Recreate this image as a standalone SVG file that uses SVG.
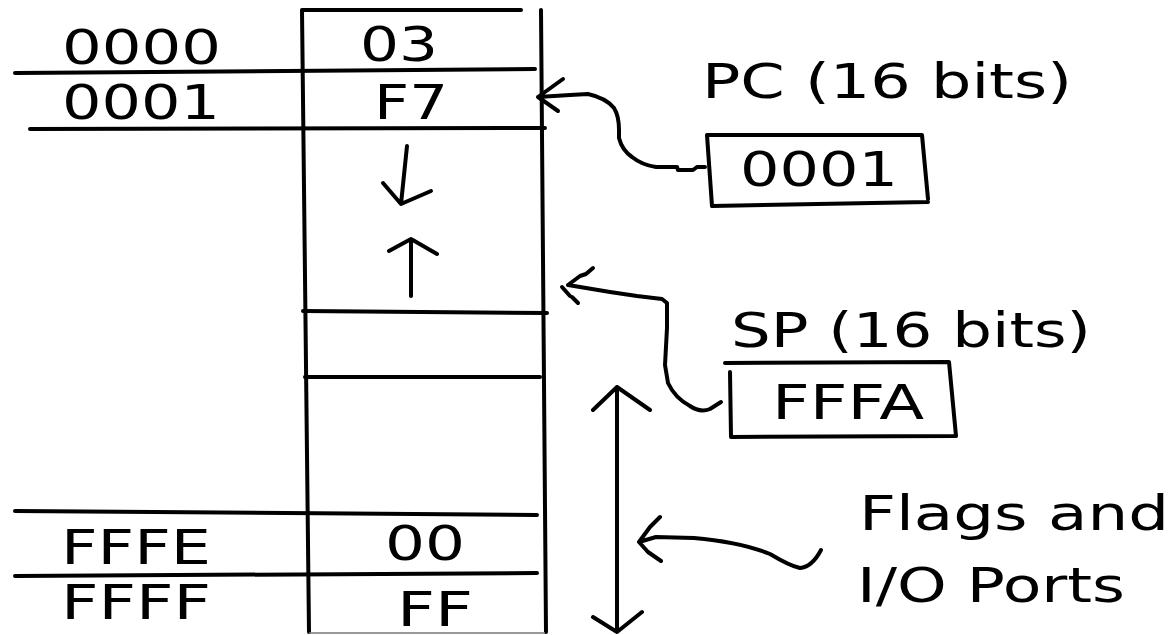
<svg xmlns="http://www.w3.org/2000/svg" width="1173" height="635" viewBox="0 0 1173 635">
<style>
.ln{stroke:#000;stroke-width:4;fill:none;stroke-linecap:round;stroke-linejoin:round}
.thin{stroke:#777;stroke-width:1.5;fill:none}
text{font-family:"DejaVu Sans","Liberation Sans",sans-serif;font-size:48px;fill:#000}
</style>
<rect width="1173" height="635" fill="#fff"/>
<g id="memory">
<path class="ln" d="M303 10 L521 10"/>
<path class="ln" d="M302 10 L309 632"/>
<path class="ln" d="M541 10 L546 632"/>
<path class="ln" d="M15 73 L535 69"/>
<path class="ln" d="M30 129 L545 128"/>
<path class="ln" d="M303 311 L547 313"/>
<path class="ln" d="M305 377 L540 377"/>
<path class="ln" d="M15 511 L537 515"/>
<path class="ln" d="M15 576 L537 573"/>
<path class="thin" d="M309 633 L545 633"/>
<text x="62" y="64" textLength="159" lengthAdjust="spacingAndGlyphs">0000</text>
<text x="62" y="119" textLength="158" lengthAdjust="spacingAndGlyphs">0001</text>
<text x="360" y="61" textLength="78" lengthAdjust="spacingAndGlyphs">03</text>
<text x="374" y="119" textLength="74" lengthAdjust="spacingAndGlyphs">F7</text>
<text x="61" y="564" textLength="150" lengthAdjust="spacingAndGlyphs">FFFE</text>
<text x="61" y="619" textLength="150" lengthAdjust="spacingAndGlyphs">FFFF</text>
<text x="385" y="560" textLength="80" lengthAdjust="spacingAndGlyphs">00</text>
<text x="397" y="626" textLength="76" lengthAdjust="spacingAndGlyphs">FF</text>
<path class="ln" d="M407 146 L401 204 M383 183 L401 204 L431 191"/>
<path class="ln" d="M411 296 L411 239 M389 251 L411 239 L437 254"/>
</g>
<g id="pc">
<text x="702" y="98" textLength="370" lengthAdjust="spacingAndGlyphs">PC (16 bits)</text>
<path class="ln" d="M707 135 L922 135 L928 199 M712 206 L928 202 M707 135 L712 206"/>
<text x="740" y="186" textLength="158" lengthAdjust="spacingAndGlyphs">0001</text>
</g>
<g id="sp">
<text x="731" y="347" textLength="360" lengthAdjust="spacingAndGlyphs">SP (16 bits)</text>
<path class="ln" d="M725 363 L949 362 L956 436 L731 437 L730 372"/>
<text x="772" y="419" textLength="152" lengthAdjust="spacingAndGlyphs">FFFA</text>
</g>
<g id="flags">
<text x="859" y="530" textLength="310" lengthAdjust="spacingAndGlyphs">Flags and</text>
<text x="857" y="602" textLength="268" lengthAdjust="spacingAndGlyphs">I/O Ports</text>
</g>
<g id="connectors">
<path class="ln" d="M538 97 L563 79 M538 97 L558 111 M538 97 L570 95 L588 94 Q606 98 614 108 Q619 116 619 130 L619 138 Q622 150 632 157 Q642 165 656 167 L677 167 L678 170 L693 170 L697 167 L705 167"/>
<path class="ln" d="M568 285 L580 276 L586 274 L593 268 M562 287 L570 296 M572 297 L578 303 M568 285 L610 292 L637 296 L662 299 L667 303 L667 328 L665 365 L668 383 Q675 398 690 406 Q700 413 710 409 L721 402"/>
<path class="ln" d="M617 387 L617 632 M593 410 L617 387 L650 410 M593 617 L617 632 L642 612"/>
<path class="ln" d="M639 542 L650 527 L660 517 M639 542 L648 552 L661 561 M639 542 L656 537 L694 538 Q740 542 770 554 Q790 566 800 568 Q812 567 821 550"/>
</g>
</svg>
